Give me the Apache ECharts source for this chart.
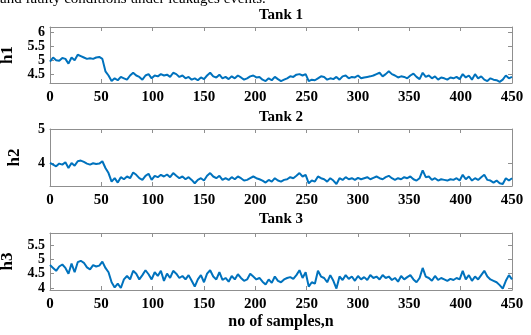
<!DOCTYPE html>
<html>
<head>
<meta charset="utf-8">
<script src="https://cdn.jsdelivr.net/npm/echarts@6/dist/echarts.min.js"></script>
<style>html,body{margin:0;padding:0;background:#fff;}#c{width:531px;height:335px;}</style>
</head>
<body>
<div id="c"></div>
<script>
// sample step used when reading the traces off the picture
const sampleStep = 3;
const lastSample = 450;
const xTicks = [0, 50, 100, 150, 200, 250, 300, 350, 400, 450];
const titles = ['Tank 1', 'Tank 2', 'Tank 3'];
const yNames = ['h1', 'h2', 'h3'];
const xName = 'no of samples,n';
const headerText = 'and faulty conditions under leakages events.';

const yTicks1 = [4.5, 5, 5.5, 6];
const yTicks2 = [4, 5];
const yTicks3 = [4, 4.5, 5, 5.5];
const yRange1 = [4.18, 6.2];
const yRange2 = [3.32, 5];
const yRange3 = [3.93, 5.92];

const h1 = [4.95,5.1,5.0,4.98,5.08,5.05,4.88,5.1,5.0,5.2,
5.15,5.1,5.05,5.07,5.05,5.1,5.12,5.05,4.6,4.45,
4.25,4.35,4.28,4.4,4.35,4.3,4.45,4.55,4.45,4.4,
4.3,4.45,4.5,4.35,4.45,4.42,4.5,4.45,4.48,4.4,
4.55,4.5,4.4,4.45,4.35,4.4,4.3,4.35,4.28,4.38,
4.32,4.45,4.55,4.42,4.38,4.48,4.35,4.4,4.32,4.42,
4.35,4.45,4.38,4.3,4.35,4.42,4.45,4.38,4.4,4.3,
4.25,4.35,4.28,4.4,4.32,4.25,4.3,4.35,4.42,4.4,
4.48,4.5,4.45,4.5,4.25,4.3,4.28,4.35,4.42,4.4,
4.3,4.35,4.32,4.4,4.3,4.42,4.45,4.35,4.4,4.38,
4.45,4.35,4.38,4.4,4.42,4.45,4.5,4.55,4.42,4.5,
4.6,4.5,4.45,4.38,4.42,4.4,4.35,4.45,4.52,4.4,
4.32,4.55,4.4,4.45,4.35,4.42,4.3,4.38,4.35,4.3,
4.38,4.35,4.4,4.32,4.5,4.38,4.45,4.3,4.5,4.35,
4.42,4.3,4.25,4.35,4.3,4.28,4.22,4.3,4.45,4.35,
4.4];

const h2 = [4.0,3.95,3.9,3.98,3.95,4.02,3.85,4.0,3.92,4.05,
4.07,4.03,3.98,3.95,3.99,3.97,3.98,4.05,3.85,3.7,
3.45,3.55,3.42,3.58,3.52,3.6,3.55,3.72,3.65,3.55,
3.5,3.62,3.68,3.5,3.62,3.58,3.65,3.6,3.66,3.58,
3.7,3.62,3.55,3.6,3.52,3.58,3.5,3.4,3.5,3.55,
3.48,3.62,3.7,3.6,3.55,3.62,3.5,3.55,3.5,3.58,
3.52,3.6,3.55,3.48,3.5,3.55,3.6,3.55,3.52,3.48,
3.42,3.5,3.45,3.55,3.48,3.45,3.5,3.52,3.58,3.55,
3.62,3.7,3.6,3.65,3.4,3.48,3.45,3.6,3.55,3.52,
3.45,3.55,3.48,3.38,3.55,3.5,3.58,3.52,3.55,3.5,
3.56,3.52,3.55,3.58,3.52,3.56,3.6,3.55,3.52,3.58,
3.62,3.55,3.5,3.55,3.52,3.58,3.55,3.6,3.52,3.48,
3.55,3.78,3.58,3.6,3.5,3.55,3.48,3.52,3.5,3.48,
3.52,3.5,3.55,3.48,3.65,3.52,3.6,3.48,3.55,3.5,
3.58,3.65,3.5,3.48,3.42,3.48,3.4,3.38,3.55,3.48,
3.55];

const h3 = [4.8,4.7,4.6,4.75,4.82,4.7,4.5,4.85,4.55,4.9,
4.95,4.88,4.72,4.65,4.8,4.75,4.78,4.92,4.7,4.55,
4.2,4.02,4.15,4.0,4.3,4.42,4.3,4.6,4.5,4.3,
4.45,4.62,4.48,4.3,4.55,4.42,4.6,4.25,4.5,4.35,
4.6,4.5,4.35,4.42,4.3,4.45,4.25,4.05,4.3,4.45,
4.2,4.5,4.62,4.4,4.3,4.55,4.28,4.35,4.22,4.42,
4.3,4.48,4.35,4.25,4.3,4.5,4.4,4.3,4.35,4.22,
4.12,4.3,4.18,4.4,4.25,4.2,4.3,4.35,4.38,4.32,
4.45,4.62,4.35,4.55,4.05,4.2,4.15,4.6,4.4,4.35,
4.2,4.45,4.25,3.98,4.4,4.28,4.45,4.32,4.4,4.25,
4.42,4.3,4.38,4.28,4.45,4.35,4.4,4.3,4.45,4.35,
4.4,4.28,4.35,4.22,4.42,4.3,4.38,4.45,4.3,4.2,
4.35,4.7,4.4,4.35,4.25,4.42,4.28,4.35,4.3,4.25,
4.32,4.28,4.35,4.3,4.6,4.3,4.45,4.25,4.4,4.3,
4.45,4.6,4.4,4.3,4.25,4.2,4.1,3.98,4.25,4.45,
4.3];

const samples = [];
for (let n = 0; n <= lastSample; n += sampleStep) samples.push(n);

const FONT = '"Liberation Serif", "Times New Roman", serif';
const BOX = '#8f8f8f';
const LINE = '#0072BD';

const grids = [
  {left: 50, right: 19, top: 27, height: 56},
  {left: 50, right: 19, top: 129, height: 57},
  {left: 50, right: 19, top: 233, height: 57}
].map(g => Object.assign({outerBoundsMode: 'none', containLabel: false}, g));

const yTicks = [yTicks1, yTicks2, yTicks3];
const yRanges = [yRange1, yRange2, yRange3];
const series = [h1, h2, h3];

const xLabelStyle = {color: '#000', fontFamily: FONT, fontWeight: 'bold', fontSize: 15, hideOverlap: false};
const yLabelStyle = {color: '#000', fontFamily: FONT, fontWeight: 'bold', fontSize: 14, hideOverlap: false};

const xAxes = [], yAxes = [], seriesOpt = [];
for (let i = 0; i < 3; i++) {
  xAxes.push({
    type: 'value', gridIndex: i, min: 0, max: lastSample, position: 'bottom',
    axisLine: {show: true, onZero: false, lineStyle: {color: BOX, width: 1}},
    axisTick: {show: true, inside: true, length: 4, customValues: xTicks, lineStyle: {color: BOX}},
    axisLabel: Object.assign({show: true, customValues: xTicks, margin: 7}, xLabelStyle),
    splitLine: {show: false},
    name: i === 2 ? xName : '', nameLocation: 'middle', nameGap: 24,
    nameTextStyle: {color: '#000', fontFamily: FONT, fontWeight: 'bold', fontSize: 16}
  });
  xAxes.push({
    type: 'value', gridIndex: i, min: 0, max: lastSample, position: 'top',
    axisLine: {show: true, onZero: false, lineStyle: {color: BOX, width: 1}},
    axisTick: {show: true, inside: true, length: 4, customValues: xTicks, lineStyle: {color: BOX}},
    axisLabel: {show: false}, splitLine: {show: false}
  });
  yAxes.push({
    type: 'value', gridIndex: i, min: yRanges[i][0], max: yRanges[i][1], position: 'left',
    axisLine: {show: true, onZero: false, lineStyle: {color: BOX, width: 1}},
    axisTick: {show: true, inside: true, length: 4, customValues: yTicks[i], lineStyle: {color: BOX}},
    axisLabel: Object.assign({show: true, customValues: yTicks[i], margin: 5}, yLabelStyle),
    splitLine: {show: false},
    name: yNames[i], nameLocation: 'middle', nameGap: 27, nameRotate: 90,
    nameTextStyle: {color: '#000', fontFamily: FONT, fontWeight: 'bold', fontSize: 17}
  });
  yAxes.push({
    type: 'value', gridIndex: i, min: yRanges[i][0], max: yRanges[i][1], position: 'right',
    axisLine: {show: true, onZero: false, lineStyle: {color: BOX, width: 1}},
    axisTick: {show: true, inside: true, length: 4, customValues: yTicks[i], lineStyle: {color: BOX}},
    axisLabel: {show: false}, splitLine: {show: false}
  });
  seriesOpt.push({
    type: 'line', xAxisIndex: 2 * i, yAxisIndex: 2 * i,
    data: samples.map((n, k) => [n, series[i][k]]),
    showSymbol: false, symbol: 'none', animation: false,
    lineStyle: {color: LINE, width: 2}
  });
}

const titleTops = [8, 110, 212];
const chart = echarts.init(document.getElementById('c'), null, {renderer: 'canvas'});
chart.setOption({
  backgroundColor: '#fff',
  animation: false,
  textStyle: {fontFamily: FONT},
  title: titles.map((t, i) => ({
    text: t, left: 281, top: titleTops[i], textAlign: 'center', padding: 0,
    textStyle: {color: '#000', fontFamily: FONT, fontWeight: 'bold', fontSize: 15}
  })),
  grid: grids,
  xAxis: xAxes,
  yAxis: yAxes,
  series: seriesOpt,
  graphic: [{
    type: 'text', left: 0, top: -8,
    style: {text: headerText, fill: '#000', fontFamily: FONT, fontSize: 15}
  }]
});
</script>
</body>
</html>
